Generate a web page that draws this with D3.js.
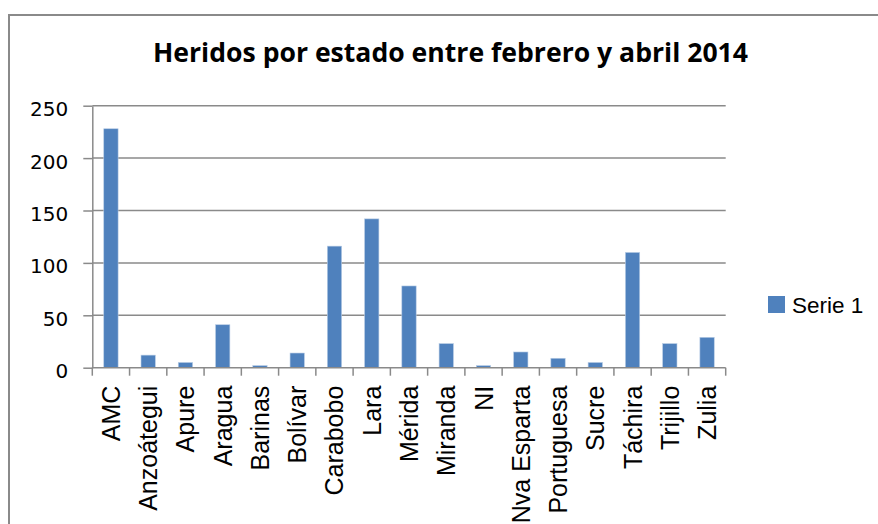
<!DOCTYPE html>
<html>
<head>
<meta charset="utf-8">
<script src="https://cdn.jsdelivr.net/npm/d3@7"></script>
<style>
  body { margin: 0; background: #fff; }
  svg { display: block; }
</style>
</head>
<body>
<div id="chart"></div>
<script>
// datos
var estados = ["AMC", "Anzoátegui", "Apure", "Aragua", "Barinas", "Bolívar", "Carabobo", "Lara",
               "Mérida", "Miranda", "NI", "Nva Esparta", "Portuguesa", "Sucre", "Táchira", "Trijillo", "Zulia"];
var heridos = [228, 12, 5, 41, 2, 14, 116, 142, 78, 23, 2, 15, 9, 5, 110, 23, 29];
var yTicks = [0, 50, 100, 150, 200, 250];
var serieNombre = "Serie 1";
var titulo = "Heridos por estado entre febrero y abril 2014";

var width = 878, height = 524;
var plot = {left: 92.3, right: 725.7, top: 105.7, bottom: 367.7};
var gris = "#8a8a8a", azul = "#4f81bd";

var svg = d3.select("#chart").append("svg")
    .attr("width", width)
    .attr("height", height);

// marco exterior (lados derecho e inferior quedan fuera de la imagen)
svg.append("rect")
    .attr("x", 9).attr("y", 15)
    .attr("width", 900).attr("height", 600)
    .attr("fill", "none")
    .attr("stroke", gris)
    .attr("stroke-width", 2);

// titulo
svg.append("text")
    .attr("x", 153).attr("y", 62)
    .attr("textLength", 595)
    .attr("lengthAdjust", "spacingAndGlyphs")
    .style("font-family", "'Open Sans', Lato, sans-serif")
    .style("font-weight", "bold")
    .style("font-size", "27px")
    .attr("fill", "#000")
    .text(titulo);

var x = d3.scaleBand()
    .domain(estados)
    .range([plot.left, plot.right])
    .padding(0);

var y = d3.scaleLinear()
    .domain([0, 250])
    .range([plot.bottom, plot.top]);

// lineas de division + eje Y
var yAxis = svg.append("g")
    .attr("transform", "translate(" + plot.left + ",0)")
    .call(d3.axisLeft(y).tickValues(yTicks).tickSize(9).tickSizeOuter(0).tickPadding(15));

yAxis.select(".domain").attr("stroke", gris).attr("stroke-width", 1.5);
yAxis.selectAll(".tick line").attr("stroke", gris).attr("stroke-width", 1.5);
yAxis.selectAll(".tick text")
    .attr("dy", "0.5em")
    .style("font-family", "'DejaVu Sans', sans-serif")
    .style("font-size", "20px")
    .attr("fill", "#000");

svg.append("g").selectAll("line")
    .data(yTicks.filter(function(d) { return d > 0; }))
    .enter().append("line")
    .attr("x1", plot.left).attr("x2", plot.right)
    .attr("y1", function(d) { return y(d); })
    .attr("y2", function(d) { return y(d); })
    .attr("stroke", gris)
    .attr("stroke-width", 1.5);

// barras
var barW = x.bandwidth() * 0.385;
svg.append("g").selectAll("rect")
    .data(heridos)
    .enter().append("rect")
    .attr("x", function(d, i) { return x(estados[i]) + x.bandwidth() / 2 - barW / 2; })
    .attr("y", function(d) { return y(d); })
    .attr("width", barW)
    .attr("height", function(d) { return y(0) - y(d); })
    .attr("fill", azul)
    .attr("stroke", "#b9cde5")
    .attr("stroke-width", 0.6);

// eje X
svg.append("line")
    .attr("x1", plot.left).attr("x2", plot.right)
    .attr("y1", plot.bottom).attr("y2", plot.bottom)
    .attr("stroke", gris).attr("stroke-width", 1.5);

var bordes = estados.map(function(d) { return x(d); }).concat([x(estados[estados.length - 1]) + x.bandwidth()]);
svg.append("g").selectAll("line")
    .data(bordes)
    .enter().append("line")
    .attr("x1", function(d) { return d; }).attr("x2", function(d) { return d; })
    .attr("y1", plot.bottom).attr("y2", plot.bottom + 8)
    .attr("stroke", gris).attr("stroke-width", 1.5);

svg.append("g").selectAll("text")
    .data(estados)
    .enter().append("text")
    .attr("transform", function(d) {
        return "translate(" + (x(d) + x.bandwidth() / 2) + "," + (plot.bottom + 18) + ") rotate(-90)";
    })
    .attr("text-anchor", "end")
    .attr("dy", "0.36em")
    .style("font-family", "'Liberation Sans', Arial, sans-serif")
    .style("font-size", "25px")
    .attr("fill", "#000")
    .text(function(d) { return d; });

// leyenda
var leyenda = svg.append("g").attr("transform", "translate(768,296)");
leyenda.append("rect")
    .attr("width", 17).attr("height", 17)
    .attr("fill", azul);
leyenda.append("text")
    .attr("x", 24).attr("y", 17)
    .style("font-family", "'Liberation Sans', Arial, sans-serif")
    .style("font-size", "22.5px")
    .attr("fill", "#000")
    .text(serieNombre);
</script>
</body>
</html>
